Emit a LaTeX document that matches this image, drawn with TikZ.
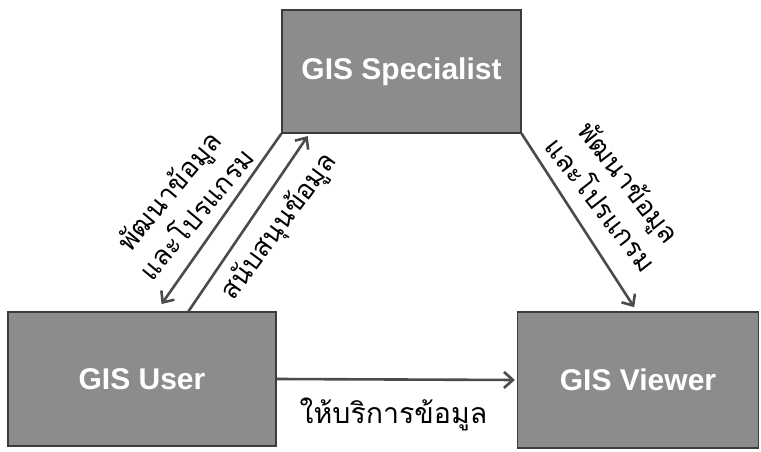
\documentclass[tikz,border=0pt]{standalone}
\usepackage{fontspec}
\setmainfont{Liberation Sans}
\newfontfamily\thaifont[Script=Thai]{Loma}
\usetikzlibrary{arrows.meta}
\definecolor{boxgray}{RGB}{140,140,140}
\definecolor{edgegray}{RGB}{60,60,60}
\definecolor{arrowgray}{RGB}{75,75,75}
\begin{document}
\begin{tikzpicture}[x=1pt, y=-1pt,
  role/.style={draw=edgegray, line width=1.2pt, fill=boxgray, text=white,
    font=\bfseries\fontsize{30}{34}\selectfont, inner sep=0pt},
  flow/.style={draw=arrowgray, line width=2.6pt,
    -{Straight Barb[length=9pt, width=16pt, line width=2.6pt]}},
  thai/.style={font=\thaifont\fontsize{27}{36}\selectfont, align=center, text=black, inner sep=0pt}
]
\useasboundingbox (0,0) rectangle (761,452);
% the three roles
\node[role, minimum width=239pt, minimum height=123pt] (spec) at (401.5,71.5) {GIS Specialist};
\node[role, minimum width=268pt, minimum height=134pt] (user) at (142,379) {GIS User};
\node[role, minimum width=241pt, minimum height=136pt] (viewer) at (638,380) {GIS Viewer};
% connectors
\draw[flow, shorten >=9pt] (spec.south west) -- ([xshift=149pt]user.north west);
\draw[flow, shorten >=3pt] ([xshift=181pt]user.north west) -- ([xshift=28pt]spec.south west);
\draw[flow, shorten >=5pt] (spec.south east) -- ([xshift=120pt]viewer.north west);
\draw[flow, shorten >=2pt] (user.east) -- (viewer.west);
% labels
\node[thai, rotate=50] (devleft) at (182,202) {พัฒนาข้อมูล\\และโปรแกรม};
\node[thai, rotate=53.5] (support) at (279,227) {สนับสนุนข้อมูล};
\node[thai, rotate=-52] (devright) at (616,193) {พัฒนาข้อมูล\\และโปรแกรม};
\node[thai, font=\thaifont\fontsize{28.5}{34}\selectfont] (service) at (393.5,414) {ให้บริการข้อมูล};
\end{tikzpicture}
\end{document}
